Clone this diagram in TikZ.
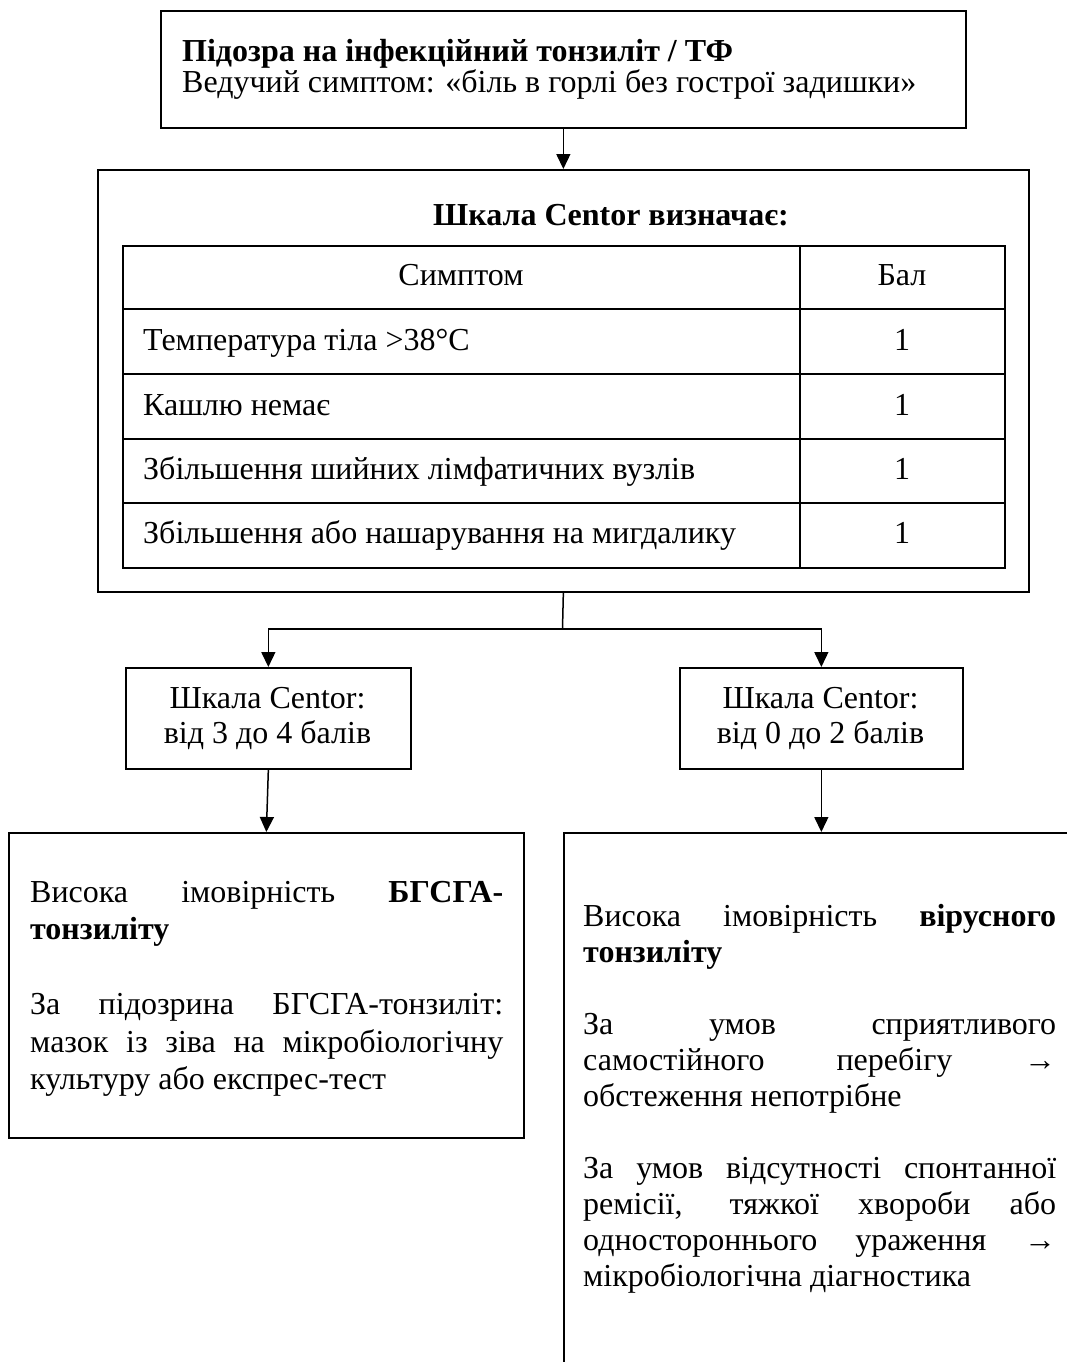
\documentclass[tikz,border=0pt]{standalone}
\usepackage{fontspec}
\setmainfont{Liberation Serif}
\usetikzlibrary{arrows.meta}
\newcommand{\bodyfont}{\fontsize{32}{37.5}\selectfont}
\newcommand{\rightfont}{\fontsize{32}{36}\selectfont}
\begin{document}
\begin{tikzpicture}[x=1pt,y=-1pt,
  box/.style={draw, line width=1.7pt, inner sep=0pt, anchor=north west},
  conn/.style={line width=1.5pt},
  arr/.style={line width=1.5pt, -{Triangle[length=15pt,width=14pt]}},
  txt/.style={inner sep=0pt, anchor=base, font=\bodyfont},
  txtw/.style={inner sep=0pt, anchor=base west, font=\bodyfont},
  tline/.style={line width=1.7pt}
]
\useasboundingbox (0,0) rectangle (1067,1362);
\clip (0,0) rectangle (1067,1362);

% top box
\node[box, minimum width=805pt, minimum height=117pt] (top) at (160,10) {};
\node[txtw, font=\bodyfont\bfseries] (t1) at (182,62) {Підозра на інфекційний тонзиліт / ТФ};
\node[txtw] (t2) at (182,93) {Ведучий симптом: «біль в горлі без гострої задишки»};

% Centor box
\node[box, minimum width=931pt, minimum height=422pt] (centor) at (97,169) {};
\node[txt, font=\bodyfont\bfseries] (ctitle) at (611,225) {Шкала Centor визначає:};

% table
\node[box, minimum width=882pt, minimum height=322pt] (tbl) at (122,245) {};
\draw[tline] (800,245) -- (800,567);
\foreach \yy in {309,374,439,503} {\draw[tline] (122,\yy) -- (1004,\yy);}
\node[txt] (h1) at (461,285.5) {Симптом};
\node[txt] (h2) at (902,285.5) {Бал};
\node[txtw] (r1) at (143,350) {Температура тіла >38°C};
\node[txt] (s1) at (902,350) {1};
\node[txtw] (r2) at (143,415) {Кашлю немає};
\node[txt] (s2) at (902,415) {1};
\node[txtw] (r3) at (143,479.5) {Збільшення шийних лімфатичних вузлів};
\node[txt] (s3) at (902,479.5) {1};
\node[txtw] (r4) at (143,543.5) {Збільшення або нашарування на мигдалику};
\node[txt] (s4) at (902,543.5) {1};

% small boxes
\node[box, minimum width=285pt, minimum height=101pt] (sl) at (125,667) {};
\node[txt] (sl1) at (267.5,708) {Шкала Centor:};
\node[txt] (sl2) at (267.5,743) {від 3 до 4 балів};
\node[box, minimum width=283pt, minimum height=101pt] (sr) at (679,667) {};
\node[txt] (sr1) at (820.5,708) {Шкала Centor:};
\node[txt] (sr2) at (820.5,743) {від 0 до 2 балів};

% bottom boxes
\node[box, minimum width=515pt, minimum height=305pt] (bl) at (8,832) {};
\node[txtw] (blt) at (30,902) {\parbox[t]{473pt}{\bodyfont\tolerance=10000\hyphenpenalty=10000\exhyphenpenalty=10000\parindent=0pt
Висока імовірність \textbf{БГСГА-}\linebreak\textbf{тонзиліту}\par\vspace{37.5pt}
За підозрина БГСГА-тонзиліт:\linebreak мазок із зіва на мікробіологічну\linebreak культуру або експрес-тест}};

\node[box, minimum width=560pt, minimum height=600pt] (br) at (563,832) {};
\node[txtw] (brt) at (583,926) {\parbox[t]{473pt}{\rightfont\tolerance=10000\hyphenpenalty=10000\exhyphenpenalty=10000\parindent=0pt
Висока імовірність \textbf{вірусного}\linebreak\textbf{тонзиліту}\par\vspace{36pt}
За умов сприятливого\linebreak самостійного перебігу →\linebreak обстеження непотрібне\par\vspace{36pt}
За умов відсутності спонтанної\linebreak ремісії, тяжкої хвороби або\linebreak одностороннього ураження →\linebreak мікробіологічна діагностика}};

% connectors
\draw[arr] (top.south) -- (centor.north);
\coordinate (split) at (562.5,629);
\draw[conn] (centor.south) -- (split);
\draw[arr] (split) -| (sl.north);
\draw[arr] (split) -| (sr.north);
\draw[arr] (sl.south) -- (bl.north);
\draw[arr] (sr.south) -- (sr.south |- br.north);
\end{tikzpicture}
\end{document}
